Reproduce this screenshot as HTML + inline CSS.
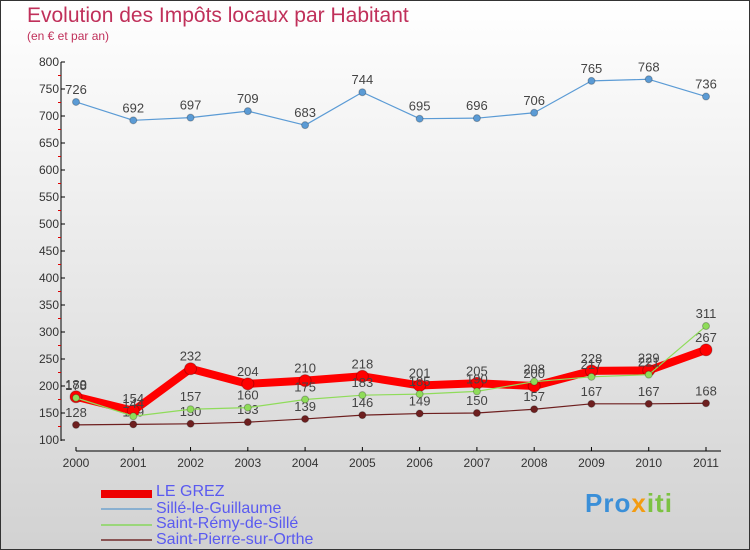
<!DOCTYPE html>
<html><head><meta charset="utf-8"><style>
body{margin:0}
#c{width:750px;height:550px;position:relative;box-sizing:border-box;border:1px solid #333;background:linear-gradient(#fff,#d2d2d2);font-family:"Liberation Sans","DejaVu Sans",sans-serif;overflow:hidden}
.t{position:absolute;left:26px;top:3px;font-size:21px;color:#c0305a;font-weight:normal}
.s{position:absolute;left:26px;top:28px;font-size:12px;color:#c0305a}
.lg{position:absolute;font-size:16px;color:#5a5af0;}
.sw{position:absolute;left:100px;width:51px}
</style></head><body>
<div id="c">
<div class="t">Evolution des Impôts locaux par Habitant</div>
<div class="s">(en € et par an)</div>
<svg id="g" width="750" height="550" style="position:absolute;left:0;top:0"></svg>
<div class="sw" style="top:489px;height:8px;background:#e00"></div>
<div class="lg" style="top:482px;left:155px">LE GREZ</div>
<div class="sw" style="top:507px;height:2px;background:#8ab0d0"></div>
<div class="lg" style="top:499px;left:155px">Sillé-le-Guillaume</div>
<div class="sw" style="top:523px;height:2px;background:#9ad67a"></div>
<div class="lg" style="top:514px;left:155px">Saint-Rémy-de-Sillé</div>
<div class="sw" style="top:538px;height:2px;background:#8a5555"></div>
<div class="lg" style="top:530px;left:155px">Saint-Pierre-sur-Orthe</div>
<div style="position:absolute;left:584px;top:487px;font-size:26px;font-weight:bold;color:#3a8fd8;letter-spacing:1px">Pro<span style="color:#f39c12">x</span><span style="color:#7cc242">iti</span></div>
</div>
<script>
const years=["2000","2001","2002","2003","2004","2005","2006","2007","2008","2009","2010","2011"];
const yTicks=[100,150,200,250,300,350,400,450,500,550,600,650,700,750,800];
const grez=[180,154,232,204,210,218,201,205,200,228,229,267];
const sille=[726,692,697,709,683,744,695,696,706,765,768,736];
const remy=[178,144,157,160,175,183,185,190,208,217,221,311];
const pierre=[128,129,130,133,139,146,149,150,157,167,167,168];
const svg=document.getElementById('g'),NS='http://www.w3.org/2000/svg';
const X=i=>75+i*(705-75)/11, Y=v=>439-(v-100)*(378/700);
function mk(t,a,p){const e=document.createElementNS(NS,t);for(const k in a)e.setAttribute(k,a[k]);(p||svg).appendChild(e);return e;}
let ax=mk('line',{x1:60,y1:61,x2:60,y2:440,stroke:'#000'});

let xa=mk('line',{x1:75,y1:450,x2:720,y2:450,stroke:'#000'});

yTicks.forEach(v=>{mk('line',{x1:60,x2:64,y1:Y(v),y2:Y(v),stroke:'#000'});
 if(v<800)mk('line',{x1:57,x2:60,y1:Y(v+25),y2:Y(v+25),stroke:'#d00'});
 const t=mk('text',{x:58,y:Y(v)+4,'text-anchor':'end','font-size':12,fill:'#333'});t.textContent=v;
 });
years.forEach((y,i)=>{mk('line',{x1:X(i),x2:X(i),y1:446,y2:450,stroke:'#000'});
 const t=mk('text',{x:X(i),y:466,'text-anchor':'middle','font-size':12,fill:'#333'});t.textContent=y;
 });
function series(d,col,w,r,name){
 const p=mk('polyline',{points:d.map((v,i)=>X(i)+','+Y(v)).join(' '),fill:'none',stroke:col,'stroke-width':w,'stroke-linejoin':'round'});
 
 d.forEach((v,i)=>{const c=mk('circle',{cx:X(i),cy:Y(v),r:r,fill:col,stroke:'rgba(0,0,0,0.25)'});
  
  const t=mk('text',{x:X(i),y:Y(v)-8,'text-anchor':'middle','font-size':13,fill:'#444'});t.textContent=v;
  });
}
series(sille,'#5b9bd5',1.2,3.5,'sille');
series(pierre,'#6e1f1f',1.2,3.5,'saint-pierre');
series(grez,'#f00',8,6,'le-grez');
series(remy,'#8fdc5a',1.2,3.5,'saint-remy');
</script>
</body></html>
